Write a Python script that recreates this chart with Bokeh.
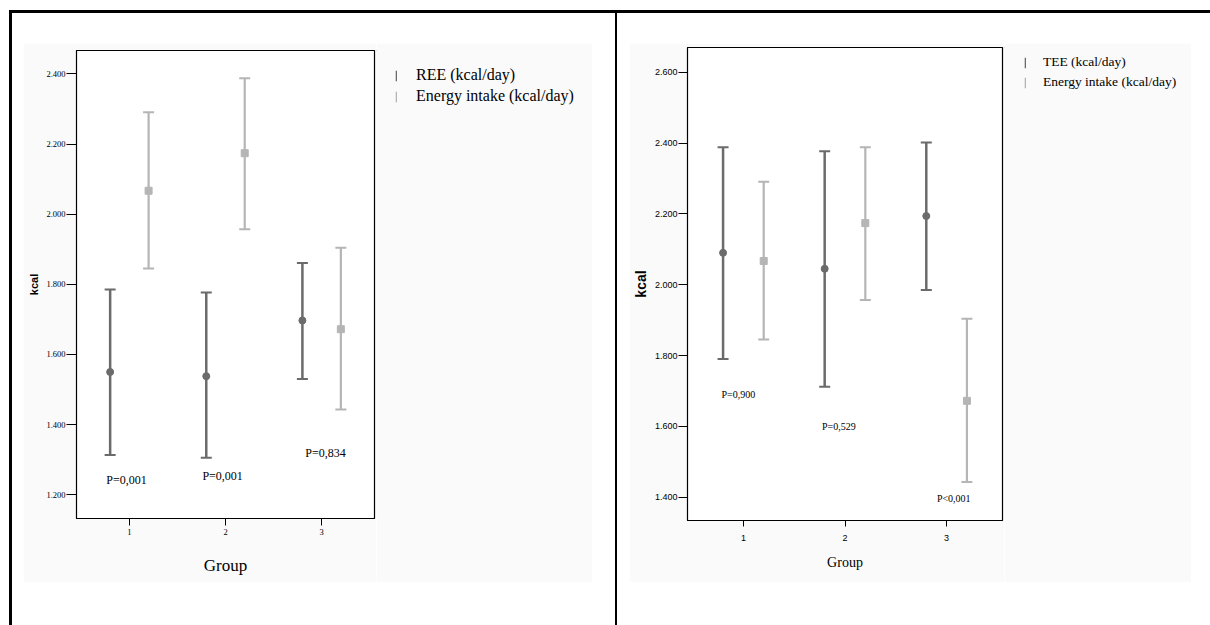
from bokeh.plotting import figure
from bokeh.models import (ColumnDataSource, Whisker, TeeHead, FixedTicker,
                          Range1d, Div, Spacer, Legend, LegendItem)
from bokeh.layouts import row, column
from bokeh.embed import file_html
from bokeh.resources import INLINE
from bokeh.core.properties import value

# ---------------- data ----------------
groups = [1, 2, 3]
group_labels = ["1", "2", "3"]
dodge = 0.2

# Left panel: REE vs energy intake
ree_mean = [1550, 1538, 1697]
ree_low = [1313, 1305, 1530]
ree_high = [1785, 1777, 1861]

ei_mean = [2067, 2174, 1672]
ei_low = [1845, 1957, 1443]
ei_high = [2291, 2388, 1904]

# Right panel: TEE vs energy intake
tee_mean = [2090, 2045, 2194]
tee_low = [1790, 1712, 1985]
tee_high = [2388, 2377, 2402]

left_yticks = [1200, 1400, 1600, 1800, 2000, 2200, 2400]
left_yticklabels = ["1.200", "1.400", "1.600", "1.800", "2.000", "2.200", "2.400"]
right_yticks = [1400, 1600, 1800, 2000, 2200, 2400, 2600]
right_yticklabels = ["1.400", "1.600", "1.800", "2.000", "2.200", "2.400", "2.600"]

left_p_text = ["P=0,001", "P=0,001", "P=0,834"]
left_p_x = [0.97, 1.97, 3.04]
left_p_y = [1241, 1254, 1320]

right_p_text = ["P=0,900", "P=0,529", "P<0,001"]
right_p_x = [0.95, 1.94, 3.07]
right_p_y = [1690, 1600, 1395]

left_legend = ["REE (kcal/day)", "Energy intake (kcal/day)"]
right_legend = ["TEE (kcal/day)", "Energy intake (kcal/day)"]

DARK = "#6b6b6b"
LIGHT = "#b5b5b5"
GREY_BG = "#fafafa"
SERIF = "Liberation Serif"
SANS = "Liberation Sans"


def add_series(p, xs, mean, low, high, color, marker, lw):
    src = ColumnDataSource(dict(x=xs, mean=mean, low=low, high=high))
    w = Whisker(source=src, base="x", upper="high", lower="low",
                line_color=color, line_width=lw,
                upper_head=TeeHead(size=11, line_color=color, line_width=2),
                lower_head=TeeHead(size=11, line_color=color, line_width=2))
    p.add_layout(w)
    p.scatter("x", "mean", source=src, marker=marker, size=7,
              fill_color=color, line_color=color)
    return src


def make_chart(width, height, mb_left, mb_top, mb_bottom,
               y0, y1, yticks, yticklabels, series, ptext, px, py, pfont,
               tick_font, tick_size, ytick_out, xtick_out,
               xlabel_standoff, xtitle_size, xtitle_standoff,
               ytitle_size, ytitle_standoff):
    p = figure(width=width, height=height, output_backend="svg",
               toolbar_location=None, x_range=Range1d(0.45, 3.55),
               y_range=Range1d(y0, y1),
               min_border_left=mb_left, min_border_right=2,
               min_border_top=mb_top, min_border_bottom=mb_bottom)
    p.background_fill_color = "white"
    p.border_fill_color = GREY_BG
    p.outline_line_color = "black"
    p.outline_line_width = 1.2
    p.grid.visible = False

    p.xaxis.ticker = FixedTicker(ticks=groups)
    p.xaxis.major_label_overrides = {g: l for g, l in zip(groups, group_labels)}
    p.yaxis.ticker = FixedTicker(ticks=yticks)
    p.yaxis.major_label_overrides = {t: l for t, l in zip(yticks, yticklabels)}

    for ax in (p.xaxis[0], p.yaxis[0]):
        ax.axis_line_color = "black"
        ax.major_tick_line_color = "black"
        ax.major_tick_in = 0
        ax.minor_tick_line_color = None
        ax.major_label_text_font = tick_font
        ax.major_label_text_font_size = tick_size
        ax.major_label_text_color = "black"
    p.yaxis.major_tick_out = ytick_out
    p.yaxis.major_label_standoff = 1
    p.xaxis.major_tick_out = xtick_out
    p.xaxis.major_label_standoff = xlabel_standoff

    p.xaxis.axis_label = "Group"
    p.xaxis.axis_label_text_font = SERIF
    p.xaxis.axis_label_text_font_style = "normal"
    p.xaxis.axis_label_text_font_size = xtitle_size
    p.xaxis.axis_label_text_color = "black"
    p.xaxis.axis_label_standoff = xtitle_standoff

    p.yaxis.axis_label = "kcal"
    p.yaxis.axis_label_text_font = SANS
    p.yaxis.axis_label_text_font_style = "bold"
    p.yaxis.axis_label_text_font_size = ytitle_size
    p.yaxis.axis_label_text_color = "black"
    p.yaxis.axis_label_standoff = ytitle_standoff

    srcs = []
    for (xs, mean, low, high, color, marker, lw) in series:
        srcs.append(add_series(p, xs, mean, low, high, color, marker, lw))

    src = ColumnDataSource(dict(x=px, y=py, t=ptext))
    p.text("x", "y", text="t", source=src, text_font=value(SERIF),
           text_font_size=pfont, text_align="center", text_baseline="middle",
           text_color="black")
    return p, srcs


def make_legend_fig(width, height, srcs, colors, labels, loc, font,
                    standoff, spacing):
    # a companion figure that only holds the legend (its own view shows no data)
    lf = figure(width=width, height=height, output_backend="svg",
                toolbar_location=None, x_axis_type=None, y_axis_type=None,
                x_range=Range1d(100, 101), y_range=Range1d(100, 101),
                min_border=0)
    lf.outline_line_color = None
    lf.background_fill_color = GREY_BG
    lf.border_fill_color = GREY_BG
    lf.grid.visible = False
    rends = []
    for s, c in zip(srcs, colors):
        rends.append(lf.vbar(x="x", top="high", bottom="low", width=0.1,
                             source=s, fill_color=c, line_color=None))
    lg = Legend(items=[LegendItem(label=lab, renderers=[r])
                       for lab, r in zip(labels, rends)],
                location=loc, orientation="vertical",
                label_text_font=SERIF, label_text_font_size=font,
                label_text_color="black", label_standoff=standoff,
                glyph_width=2, glyph_height=13, spacing=spacing,
                padding=0, margin=0, border_line_color=None,
                background_fill_alpha=0)
    lf.add_layout(lg)
    return lf


x_a = [g - dodge for g in groups]
x_b = [g + dodge for g in groups]

# Left panel: chart figure (frame 298 x 468) + legend figure
p1, s1 = make_chart(
    353, 539, 53, 7, 64,
    1132, 2467, left_yticks, left_yticklabels,
    [(x_a, ree_mean, ree_low, ree_high, DARK, "circle", 2.5),
     (x_b, ei_mean, ei_low, ei_high, LIGHT, "square", 2.2)],
    left_p_text, left_p_x, left_p_y, "12px",
    SERIF, "8.5px", 10, 7, 3, "17px", 18, "11px", 3)
l1 = make_legend_fig(216, 539, s1, [DARK, LIGHT], left_legend, (19, 413),
                     "16px", 19, 3)

# Right panel: chart figure (frame 316 x 473) + legend figure
p2, s2 = make_chart(
    375, 539, 57, 4, 62,
    1334, 2670, right_yticks, right_yticklabels,
    [(x_a, tee_mean, tee_low, tee_high, DARK, "circle", 2.5),
     (x_b, ei_mean, ei_low, ei_high, LIGHT, "square", 2.2)],
    right_p_text, right_p_x, right_p_y, "10px",
    SANS, "9px", 9, 6, 8, "14px", 11, "14px", 3)
l2 = make_legend_fig(187, 539, s2, [DARK, LIGHT], right_legend, (20, 430),
                     "13.5px", 17, 4)


def black_bar(w, h):
    return Div(width=w, height=h, margin=0, styles={"background-color": "black"})


H = 612
left_cell = column(Spacer(width=603, height=30, margin=0),
                   row(Spacer(width=11, height=539, margin=0), p1, l1, spacing=0),
                   spacing=0)
right_cell = column(Spacer(width=580, height=30, margin=0),
                    row(Spacer(width=12, height=539, margin=0), p2, l2, spacing=0),
                    spacing=0)

layout = column(
    Spacer(width=1200, height=10, margin=0),
    row(Spacer(width=9, height=3, margin=0), black_bar(1201, 3), spacing=0),
    row(Spacer(width=9, height=H, margin=0),
        black_bar(3, H),
        left_cell,
        black_bar(2, H),
        right_cell, spacing=0),
    spacing=0,
)

open("out.html", "w").write(file_html(layout, INLINE))
